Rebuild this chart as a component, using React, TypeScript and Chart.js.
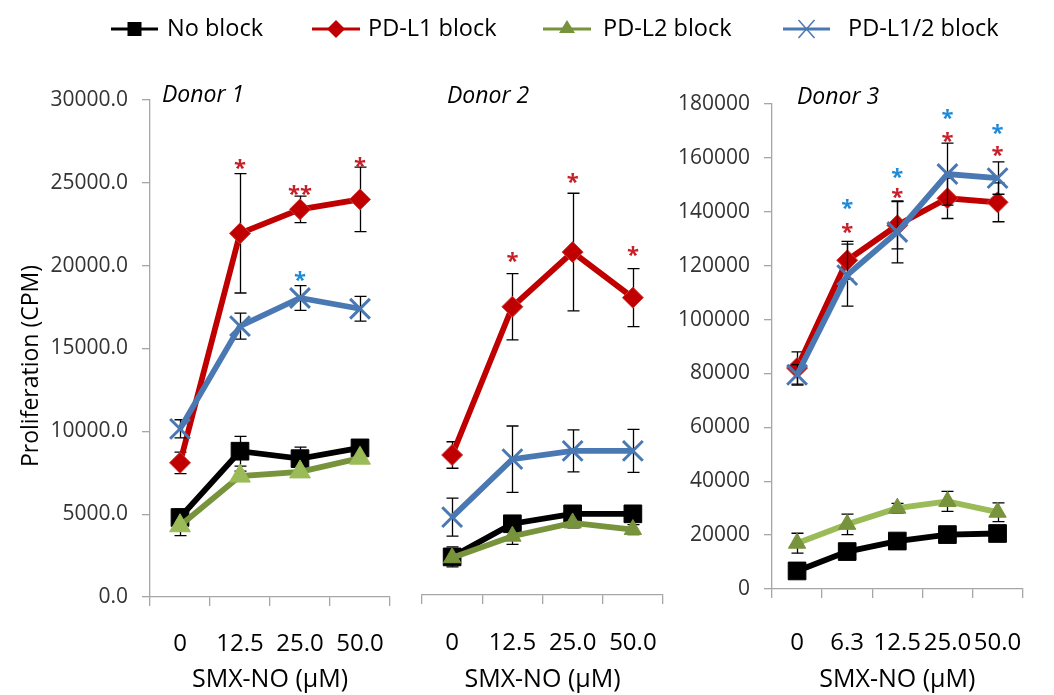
import React, { useEffect, useRef } from 'react';
import { Chart, registerables } from 'chart.js';

Chart.register(...registerables);

// ---------- data ----------
const seriesNames = ['No block', 'PD-L1 block', 'PD-L2 block', 'PD-L1/2 block'];
const xAxisTitle = 'SMX-NO (\u00b5M)';
const yAxisTitle = 'Proliferation (CPM)';

// Donor 1
const donor1Doses = ['0', '12.5', '25.0', '50.0'];
const donor1NoBlock = [4800, 8800, 8350, 9000];
const donor1NoBlockErr = [500, 900, 700, 300];
const donor1PDL1 = [8100, 21950, 23400, 24000];
const donor1PDL1Err = [650, 3600, 800, 1950];
const donor1PDL2 = [4300, 7300, 7550, 8380];
const donor1PDL2Err = [600, 300, 300, 300];
const donor1PDL12 = [10150, 16350, 18050, 17400];
const donor1PDL12Err = [550, 780, 750, 750];
// [dose index, value, text, series index]
const donor1Stars: [number, number, string, number][] = [
  [1, 26250, '*', 1],
  [2, 24700, '**', 1],
  [3, 26400, '*', 1],
  [2, 19500, '*', 3],
];

// Donor 2
const donor2Doses = ['0', '12.5', '25.0', '50.0'];
const donor2NoBlock = [2300, 4300, 4900, 4900];
const donor2NoBlockErr = [600, 400, 300, 300];
const donor2PDL1 = [8450, 17400, 20700, 17950];
const donor2PDL1Err = [800, 2000, 3550, 1750];
const donor2PDL2 = [2250, 3550, 4350, 3950];
const donor2PDL2Err = [300, 500, 300, 300];
const donor2PDL12 = [4700, 8200, 8700, 8700];
const donor2PDL12Err = [1150, 2000, 1270, 1300];
const donor2Stars: [number, number, string, number][] = [
  [1, 20500, '*', 1],
  [2, 25300, '*', 1],
  [3, 20900, '*', 1],
];

// Donor 3
const donor3Doses = ['0', '6.3', '12.5', '25.0', '50.0'];
const donor3NoBlock = [6700, 13900, 17800, 20200, 20600];
const donor3NoBlockErr = [1500, 1500, 1500, 1500, 1500];
const donor3PDL1 = [82000, 122000, 135000, 145000, 143500];
const donor3PDL1Err = [6000, 7000, 8800, 7500, 7200];
const donor3PDL2 = [17000, 24000, 30000, 32500, 28500];
const donor3PDL2Err = [3700, 3800, 1800, 3700, 3500];
const donor3PDL12 = [79500, 116500, 132500, 154000, 152500];
const donor3PDL12Err = [3800, 11500, 11500, 11500, 6000];
const donor3Stars: [number, number, string, number][] = [
  [1, 143800, '*', 3],
  [1, 134900, '*', 1],
  [2, 155300, '*', 3],
  [2, 147700, '*', 1],
  [3, 176900, '*', 3],
  [3, 168400, '*', 1],
  [4, 171600, '*', 3],
  [4, 163200, '*', 1],
];

// ---------- styles ----------
const FONT = 'Open Sans';
const RED = '#c00000';
const RED_EDGE = '#cc3a3a';
const BLUE = '#4a78b2';
const BLACK = '#000000';
const GREEN_DARK = '#77933c';
const GREEN_LIGHT = '#9bbb59';
const STAR_RED = '#c8202a';
const STAR_BLUE = '#1f8ad6';

type Panel = {
  labels: string[];
  series: number[][];
  errors: number[][];
  stars: [number, number, string, number][];
  title: string;
  titleX: number;
  titleY: number;
  padding: { left: number; right: number; top: number; bottom: number };
  yWidth: number;
  xHeight: number;
  yShow: boolean;
  yMax: number;
  yStep: number;
  yDecimals: number;
  yPad: number;
  xPad: number;
  greenLine: string;
  greenPoint: string;
  triRadius: number;
  main: boolean;
};

const panels: Panel[] = [
  {
    labels: donor1Doses,
    series: [donor1NoBlock, donor1PDL1, donor1PDL2, donor1PDL12],
    errors: [donor1NoBlockErr, donor1PDL1Err, donor1PDL2Err, donor1PDL12Err],
    stars: donor1Stars,
    title: 'Donor 1',
    titleX: 162,
    titleY: 95,
    padding: { left: 0, right: 664, top: 100, bottom: 0 },
    yWidth: 150,
    xHeight: 98,
    yShow: true,
    yMax: 30000,
    yStep: 5000,
    yDecimals: 1,
    yPad: 14,
    xPad: 24,
    greenLine: GREEN_DARK,
    greenPoint: GREEN_LIGHT,
    triRadius: 12,
    main: true,
  },
  {
    labels: donor2Doses,
    series: [donor2NoBlock, donor2PDL1, donor2PDL2, donor2PDL12],
    errors: [donor2NoBlockErr, donor2PDL1Err, donor2PDL2Err, donor2PDL12Err],
    stars: donor2Stars,
    title: 'Donor 2',
    titleX: 447,
    titleY: 96,
    padding: { left: 422, right: 391, top: 98, bottom: 0 },
    yWidth: 0,
    xHeight: 100,
    yShow: false,
    yMax: 30000,
    yStep: 5000,
    yDecimals: 1,
    yPad: 14,
    xPad: 25,
    greenLine: GREEN_DARK,
    greenPoint: GREEN_DARK,
    triRadius: 10,
    main: false,
  },
  {
    labels: donor3Doses,
    series: [donor3NoBlock, donor3PDL1, donor3PDL2, donor3PDL12],
    errors: [donor3NoBlockErr, donor3PDL1Err, donor3PDL2Err, donor3PDL12Err],
    stars: donor3Stars,
    title: 'Donor 3',
    titleX: 797,
    titleY: 97,
    padding: { left: 0, right: 13, top: 104, bottom: 0 },
    yWidth: 772,
    xHeight: 106,
    yShow: true,
    yMax: 180000,
    yStep: 20000,
    yDecimals: 0,
    yPad: 14,
    xPad: 31,
    greenLine: GREEN_LIGHT,
    greenPoint: GREEN_DARK,
    triRadius: 10,
    main: false,
  },
];

// legend layout (pixel positions of legend entries)
const legendY = 29;
const legendLayout = [
  { x0: 111, x1: 158, tx: 167 },
  { x0: 312, x1: 360, tx: 368 },
  { x0: 543, x1: 591, tx: 603 },
  { x0: 783, x1: 830, tx: 848 },
];
const legendLineColors = [BLACK, RED, GREEN_DARK, BLUE];

function drawLegendMarker(ctx: CanvasRenderingContext2D, i: number, x: number, y: number) {
  ctx.save();
  if (i === 0) {
    ctx.fillStyle = BLACK;
    ctx.fillRect(x - 7, y - 7, 14, 14);
  } else if (i === 1) {
    ctx.fillStyle = RED;
    ctx.beginPath();
    ctx.moveTo(x, y - 9);
    ctx.lineTo(x + 9, y);
    ctx.lineTo(x, y + 9);
    ctx.lineTo(x - 9, y);
    ctx.closePath();
    ctx.fill();
  } else if (i === 2) {
    ctx.fillStyle = GREEN_DARK;
    ctx.beginPath();
    ctx.moveTo(x, y - 9);
    ctx.lineTo(x + 8, y + 4);
    ctx.lineTo(x - 8, y + 4);
    ctx.closePath();
    ctx.fill();
  } else {
    ctx.strokeStyle = BLUE;
    ctx.lineWidth = 1.5;
    ctx.beginPath();
    ctx.moveTo(x - 8, y - 9);
    ctx.lineTo(x + 8, y + 9);
    ctx.moveTo(x + 8, y - 9);
    ctx.lineTo(x - 8, y + 9);
    ctx.stroke();
  }
  ctx.restore();
}

const overlayPlugin = {
  id: 'overlay',
  beforeDatasetDraw(chart: any, args: any) {
    const ds: any = chart.data.datasets[args.index];
    if (!ds.errors) return;
    const ctx: CanvasRenderingContext2D = chart.ctx;
    const xs = chart.scales.x;
    const ys = chart.scales.y;
    ctx.save();
    ctx.strokeStyle = '#000';
    ctx.lineWidth = 1.3;
    ds.data.forEach((v: number, j: number) => {
      const e = ds.errors[j];
      const x = Math.round(xs.getPixelForValue(j)) + 0.5;
      const y0 = ys.getPixelForValue(v - e);
      const y1 = ys.getPixelForValue(v + e);
      ctx.beginPath();
      ctx.moveTo(x, y0);
      ctx.lineTo(x, y1);
      ctx.moveTo(x - 6, y0);
      ctx.lineTo(x + 6, y0);
      ctx.moveTo(x - 6, y1);
      ctx.lineTo(x + 6, y1);
      ctx.stroke();
    });
    ctx.restore();
  },
  afterDraw(chart: any) {
    const p: Panel = chart.options.plugins.overlay.panel;
    const ctx: CanvasRenderingContext2D = chart.ctx;
    const xs = chart.scales.x;
    const ys = chart.scales.y;
    ctx.save();
    // significance stars
    ctx.font = `bold 22px "${FONT}"`;
    ctx.textAlign = 'center';
    ctx.textBaseline = 'alphabetic';
    p.stars.forEach(([idx, val, text, s]) => {
      ctx.fillStyle = s === 3 ? STAR_BLUE : STAR_RED;
      ctx.fillText(text, xs.getPixelForValue(idx), ys.getPixelForValue(val) + 13);
    });
    // panel title
    ctx.font = `italic 23px "${FONT}"`;
    ctx.fillStyle = '#000';
    ctx.textAlign = 'left';
    ctx.textBaseline = 'middle';
    ctx.fillText(p.title, p.titleX, p.titleY);
    if (p.main) {
      // y axis title
      ctx.save();
      ctx.translate(31, 366);
      ctx.rotate(-Math.PI / 2);
      ctx.font = `23px "${FONT}"`;
      ctx.textAlign = 'center';
      ctx.textBaseline = 'middle';
      ctx.fillStyle = '#000';
      ctx.fillText(yAxisTitle, 0, 0);
      ctx.restore();
      // legend
      legendLayout.forEach((l, i) => {
        ctx.strokeStyle = legendLineColors[i];
        ctx.lineWidth = 3;
        ctx.beginPath();
        ctx.moveTo(l.x0, legendY);
        ctx.lineTo(l.x1, legendY);
        ctx.stroke();
        drawLegendMarker(ctx, i, (l.x0 + l.x1) / 2, legendY);
        ctx.font = `23.5px "${FONT}"`;
        ctx.fillStyle = '#000';
        ctx.textAlign = 'left';
        ctx.textBaseline = 'middle';
        ctx.fillText(seriesNames[i], l.tx, legendY);
      });
    }
    ctx.restore();
  },
};

function makeChart(canvas: HTMLCanvasElement, p: Panel) {
  const lineColors = [BLACK, RED, p.greenLine, BLUE];
  const pointFill = [BLACK, RED, p.greenPoint, BLUE];
  const pointEdge = [BLACK, RED_EDGE, p.greenPoint, BLUE];
  const pointStyles = ['rect', 'rectRot', 'triangle', 'crossRot'];
  const pointRadius = [12.5, 10.5, p.triRadius, 14];
  const pointBorderWidth = [1, 1, 1, 3];
  const datasets: any[] = p.series.map((vals, i) => ({
    label: seriesNames[i],
    data: vals,
    errors: p.errors[i],
    borderColor: lineColors[i],
    borderWidth: 5.8,
    backgroundColor: lineColors[i],
    pointStyle: pointStyles[i],
    pointRadius: pointRadius[i],
    pointBackgroundColor: pointFill[i],
    pointBorderColor: pointEdge[i],
    pointBorderWidth: pointBorderWidth[i],
    tension: 0,
    fill: false,
    order: 4 - i,
  }));
  return new Chart(canvas, {
    type: 'line',
    data: { labels: p.labels, datasets },
    options: {
      animation: false,
      responsive: false,
      maintainAspectRatio: false,
      events: [],
      layout: { padding: p.padding },
      plugins: {
        legend: { display: false },
        tooltip: { enabled: false },
        title: { display: false },
        overlay: { panel: p },
      } as any,
      scales: {
        x: {
          type: 'category',
          offset: true,
          grid: {
            offset: true,
            drawOnChartArea: false,
            drawTicks: true,
            tickLength: 9,
            color: '#a6a6a6',
            lineWidth: 1.3,
          },
          border: { display: true, color: '#a6a6a6', width: 1.3 },
          ticks: {
            color: '#000',
            font: { family: FONT, size: 24 },
            padding: p.xPad,
            maxRotation: 0,
            minRotation: 0,
            autoSkip: false,
          },
          title: {
            display: true,
            text: xAxisTitle,
            color: '#000',
            font: { family: FONT, size: 25 },
            padding: { top: 0, bottom: 0 },
          },
          afterFit: (s: any) => {
            s.height = p.xHeight;
          },
        },
        y: {
          display: p.yShow,
          min: 0,
          max: p.yMax,
          grid: {
            drawOnChartArea: false,
            drawTicks: true,
            tickLength: 8,
            color: '#a6a6a6',
            lineWidth: 1.3,
          },
          border: { display: true, color: '#a6a6a6', width: 1.3 },
          ticks: {
            stepSize: p.yStep,
            color: '#333',
            font: { family: FONT, size: 21 },
            padding: p.yPad,
            callback: (v: any) => Number(v).toFixed(p.yDecimals),
          },
          afterFit: (s: any) => {
            s.width = p.yWidth;
          },
        },
      },
    } as any,
    plugins: [overlayPlugin as any],
  });
}

export default function App() {
  const r1 = useRef<HTMLCanvasElement>(null);
  const r2 = useRef<HTMLCanvasElement>(null);
  const r3 = useRef<HTMLCanvasElement>(null);
  useEffect(() => {
    const refs = [r1, r2, r3];
    const charts = refs.map((r, i) => makeChart(r.current as HTMLCanvasElement, panels[i]));
    return () => charts.forEach((c) => c.destroy());
  }, []);
  const cs: React.CSSProperties = { position: 'absolute', left: 0, top: 0 };
  return (
    <div style={{ position: 'absolute', left: 0, top: 0, width: 1054, height: 695, background: '#fff' }}>
      <canvas ref={r1} width={1054} height={695} style={cs} />
      <canvas ref={r2} width={1054} height={695} style={cs} />
      <canvas ref={r3} width={1054} height={695} style={cs} />
    </div>
  );
}
